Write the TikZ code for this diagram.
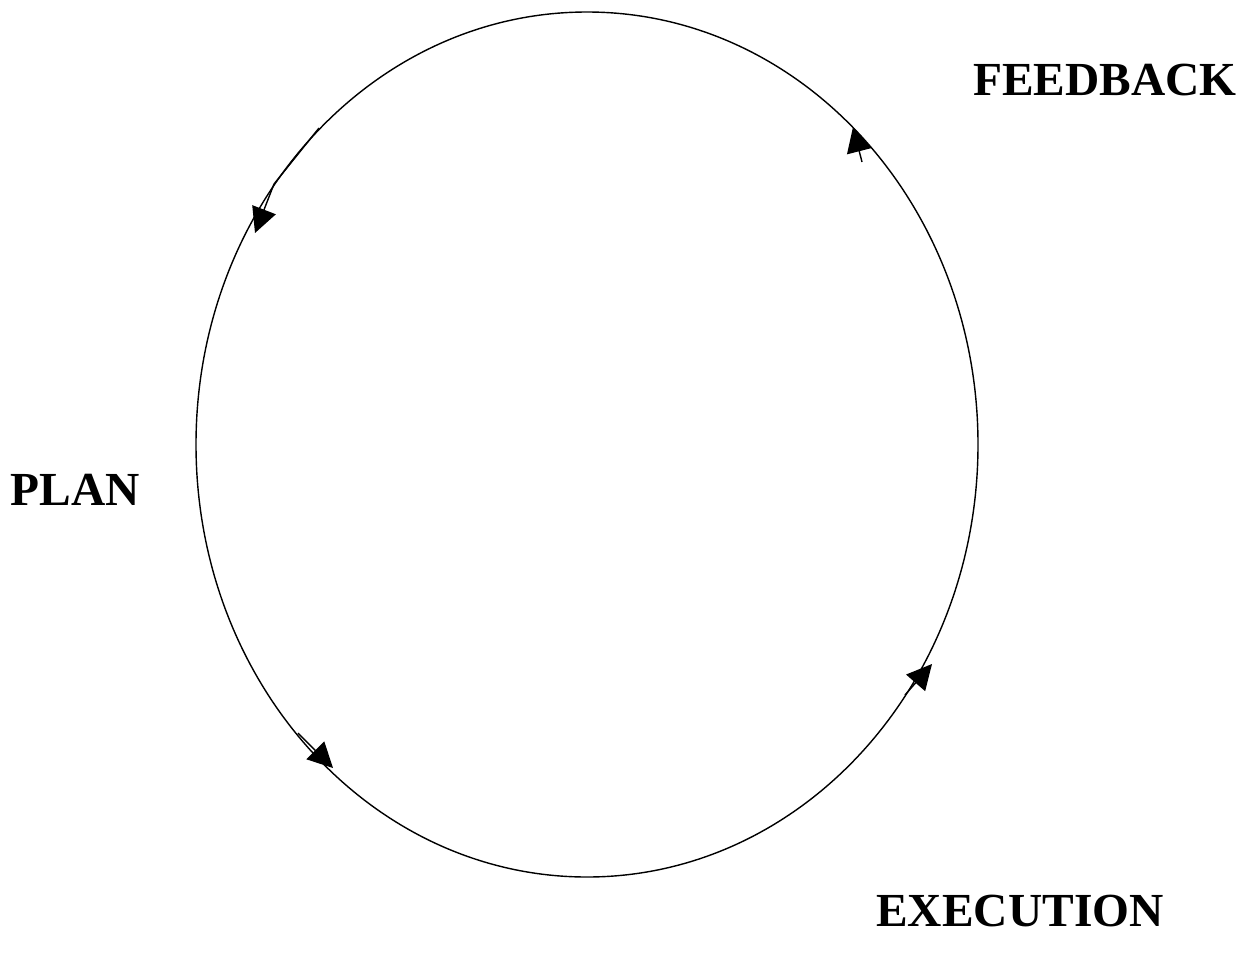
\documentclass[tikz,border=0pt]{standalone}
\usepackage{fontspec}
\setmainfont{Liberation Serif}
\usetikzlibrary{arrows.meta}

\begin{document}
\begin{tikzpicture}[x=0.02cm, y=-0.02cm,
    phase/.style={font=\bfseries\fontsize{27}{32}\selectfont, inner sep=0pt},
    flow/.style={line width=0.8pt, -{Triangle[length=0.5cm, width=0.5cm]}}]
  \useasboundingbox (0,0) rectangle (1250,954);
  \draw[line width=0.8pt] (587,444.5) ellipse [x radius=391, y radius=432.5];

  \node[phase] (FB) at (1105,80) {FEEDBACK};
  \node[phase] (PL) at (75,490) {PLAN};
  \node[phase] (EX) at (1020,911) {EXECUTION};

  % arrow shafts and heads on the cycle
  \coordinate (a1) at (319,128); \coordinate (a1m) at (274,184); \coordinate (a1t) at (255,233);
  \coordinate (a2) at (862,162); \coordinate (a2t) at (853,127);
  \coordinate (a3) at (905,695); \coordinate (a3t) at (932,664);
  \coordinate (a4) at (298,733); \coordinate (a4t) at (333,768);
  \draw[flow] (a1) -- (a1m) -- (a1t);
  \draw[flow] (a2) -- (a2t);
  \draw[flow] (a3) -- (a3t);
  \draw[flow] (a4) -- (a4t);
\end{tikzpicture}
\end{document}
